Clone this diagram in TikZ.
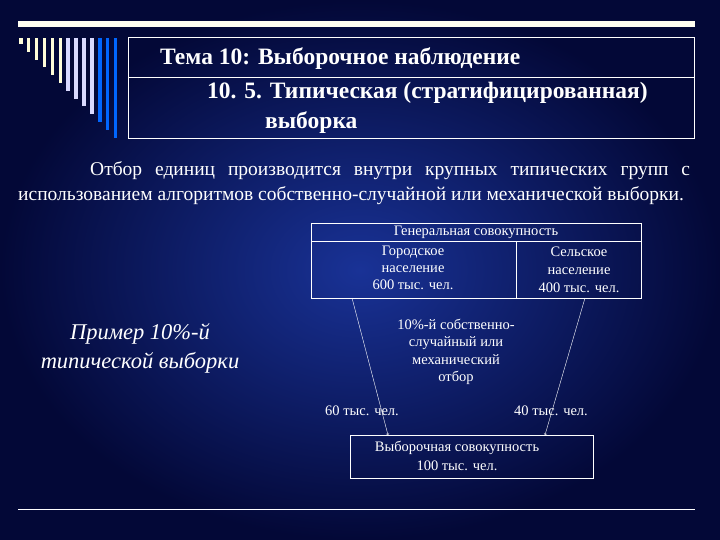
\documentclass[tikz,border=0pt]{standalone}
\usepackage{fontspec}
\setmainfont{Liberation Serif}
\begin{document}
\begin{tikzpicture}[x=1pt,y=-1pt,
  wt/.style={text=white,inner sep=0pt},
  sm/.style={wt,font=\fontsize{14.5}{16}\selectfont,align=center},
  ln/.style={draw=white,line width=0.8pt}]
\definecolor{bgin}{RGB}{25,50,150}\definecolor{bgout}{RGB}{3,8,55}
\shade[inner color=bgin,outer color=bgout] (0,0) rectangle (720,540);
\useasboundingbox (0,0) rectangle (720,540);
\fill[white!95!yellow] (18,21) rectangle (695,27);
\foreach \i in {0,...,12}{
  \pgfmathsetmacro{\xx}{19+7.9*\i}
  \pgfmathsetmacro{\yy}{44+7.8*\i}
  \pgfmathtruncatemacro{\c}{\i<6 ? 0 : (\i<10 ? 1 : 2)}
  \ifnum\c=0 \def\cc{white!85!yellow}\fi
  \ifnum\c=1 \def\cc{blue!15!white}\fi
  \ifnum\c=2 \def\cc{blue!60!cyan}\fi
  \fill[\cc] (\xx,38) rectangle ({\xx+3.5},\yy);
}
\draw[ln] (128,37) rectangle (694,138);
\draw[ln,line width=0.5pt] (128,77) -- (694,77);
\node[wt,anchor=west,font=\fontsize{23.5}{25}\bfseries] (t1) at (160,59) {Тема 10: Выборочное наблюдение};
\node[wt,anchor=west,font=\fontsize{23.5}{25}\bfseries] (t2) at (207,93) {10. 5. Типическая (стратифицированная)};
\node[wt,anchor=west,font=\fontsize{23.5}{25}\bfseries] (t3) at (265,123) {выборка};
\node[wt,anchor=north west,text width=672pt,align=justify,font=\fontsize{19.5}{25}\selectfont] (par) at (18,161)
 {\hspace*{72pt}Отбор единиц производится внутри крупных типических групп с использованием алгоритмов собственно-случайной или механической выборки.};
\node[wt,align=center,font=\fontsize{22.5}{29}\itshape] (ex) at (140,348) {Пример 10\%-й\\типической выборки};
\draw[ln] (311,223) rectangle (641,298);
\draw[ln] (311,241) -- (641,241);
\draw[ln] (516,241) -- (516,298);
\node[sm] (gen) at (476,232) {Генеральная совокупность};
\node[sm,font=\fontsize{14.5}{17}\selectfont] (city) at (413,268) {Городское\\население\\600 тыс. чел.};
\node[sm,font=\fontsize{14.5}{18}\selectfont] (rur) at (579,270) {Сельское\\население\\400 тыс. чел.};
\node[sm,font=\fontsize{14.5}{17.5}\selectfont] (mid) at (456,352) {10\%-й собственно-\\случайный  или\\механический\\отбор};
\node[ln,minimum width=243pt,minimum height=43pt,inner sep=0pt] (smp) at (471.5,456.5) {};
\node[sm,font=\fontsize{14.5}{19}\selectfont] (smpt) at (457,456) {Выборочная совокупность\\100 тыс. чел.};
\coordinate (a1) at (352,298); \coordinate (b1) at (388,435);
\coordinate (a2) at (585,298); \coordinate (b2) at (545,435);
\draw[white,thin,->] (a1) -- (b1);
\draw[white,thin,->] (a2) -- (b2);
\node[sm] (l60) at (362,411) {60 тыс. чел.};
\node[sm] (l40) at (551,411) {40 тыс. чел.};
\draw[white,line width=0.8pt] (18,509) -- (695,509);
\end{tikzpicture}
\end{document}
